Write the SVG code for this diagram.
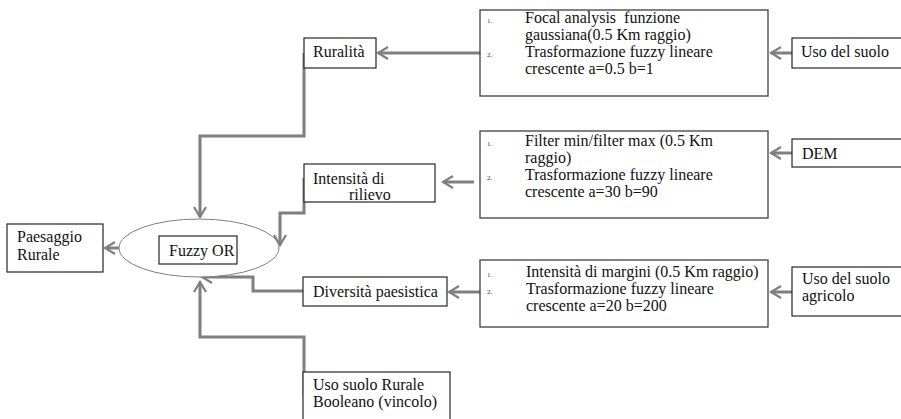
<svg xmlns="http://www.w3.org/2000/svg" width="901" height="419" viewBox="0 0 901 419">
<style>
.box{fill:#fff;stroke:#262626;stroke-width:1.2}
.big{fill:#fff;stroke:#404040;stroke-width:1.3}
.t{font-family:"Liberation Serif","Times New Roman",serif;font-size:16px;fill:#111}
.n{font-family:"Liberation Serif","Times New Roman",serif;font-size:7px;fill:#333}
.c{fill:none;stroke:#7f7f7f;stroke-width:3;marker-end:url(#arr)}
</style>
<defs>
<marker id="arr" markerUnits="userSpaceOnUse" viewBox="-12 -8 14 16" refX="0" refY="0" markerWidth="14" markerHeight="16" orient="auto">
<path d="M-10,-6 L0,0 L-10,6" fill="none" stroke="#7f7f7f" stroke-width="2.2"/>
</marker>
</defs>
<rect width="901" height="419" fill="#fff"/>
<g id="connectors">
<line class="c" x1="792" y1="53" x2="771" y2="53"/>
<line class="c" x1="480" y1="53" x2="378" y2="53"/>
<path class="c" d="M304,53 V136 H200 V217"/>
<line class="c" x1="792" y1="153" x2="771" y2="153"/>
<line class="c" x1="474" y1="182" x2="443" y2="182"/>
<path class="c" d="M304,178 V213 H280 V245"/>
<line class="c" x1="792" y1="292" x2="771" y2="292"/>
<line class="c" x1="480" y1="292" x2="449" y2="292"/>
<path class="c" d="M303,291 H253 V277 H202"/>
<path class="c" d="M304,395 V337 H200 V282"/>
<line class="c" x1="120" y1="248" x2="105" y2="248"/>
</g>
<g id="ruralita"><rect class="box" x="304" y="38" width="72" height="30"/><text class="t" x="313" y="57">Ruralità</text></g>
<g id="focal"><rect class="big" x="480" y="10" width="288" height="86"/>
<text class="n" x="487" y="23">1.</text><text class="t" x="525" y="23" xml:space="preserve">Focal analysis  funzione</text>
<text class="t" x="525" y="40">gaussiana(0.5 Km raggio)</text>
<text class="n" x="487" y="57">2.</text><text class="t" x="525" y="57">Trasformazione fuzzy lineare</text>
<text class="t" x="525" y="74">crescente a=0.5 b=1</text></g>
<g id="uso-suolo"><rect class="box" x="792" y="38" width="112" height="30"/><text class="t" x="801" y="57">Uso del suolo</text></g>
<g id="intensita"><rect class="box" x="304" y="164" width="131" height="38"/><text class="t" x="313" y="184">Intensità di</text><text class="t" x="349" y="200">rilievo</text></g>
<g id="filter"><rect class="big" x="480" y="131" width="288" height="87"/>
<text class="n" x="487" y="146">1.</text><text class="t" x="525" y="146">Filter min/filter max (0.5 Km</text>
<text class="t" x="525" y="163">raggio)</text>
<text class="n" x="487" y="180">2.</text><text class="t" x="525" y="180">Trasformazione fuzzy lineare</text>
<text class="t" x="525" y="197">crescente a=30 b=90</text></g>
<g id="dem"><rect class="box" x="792" y="139" width="112" height="28"/><text class="t" x="802" y="159">DEM</text></g>
<g id="fuzzy-or"><ellipse cx="199" cy="248" rx="80" ry="29" fill="#fff" stroke="#7f7f7f" stroke-width="1"/><rect class="box" x="159" y="236" width="78" height="28"/><text class="t" x="169" y="256">Fuzzy OR</text></g>
<g id="paesaggio"><rect class="box" x="7" y="224" width="96" height="48"/><text class="t" x="17" y="242">Paesaggio</text><text class="t" x="17" y="260">Rurale</text></g>
<g id="diversita"><rect class="box" x="303" y="277" width="144" height="29"/><text class="t" x="313" y="297">Diversità paesistica</text></g>
<g id="margini"><rect class="big" x="480" y="260" width="288" height="67"/>
<text class="n" x="487" y="277">1.</text><text class="t" x="526" y="277">Intensità di margini (0.5 Km raggio)</text>
<text class="n" x="487" y="294">2.</text><text class="t" x="526" y="294">Trasformazione fuzzy lineare</text>
<text class="t" x="526" y="311">crescente a=20 b=200</text></g>
<g id="agricolo"><rect class="box" x="792" y="267" width="112" height="49"/><text class="t" x="802" y="284">Uso del suolo</text><text class="t" x="802" y="301">agricolo</text></g>
<g id="booleano"><rect class="box" x="303" y="372" width="147" height="55"/><text class="t" x="313" y="390">Uso suolo Rurale</text><text class="t" x="313" y="407">Booleano (vincolo)</text></g>
</svg>
